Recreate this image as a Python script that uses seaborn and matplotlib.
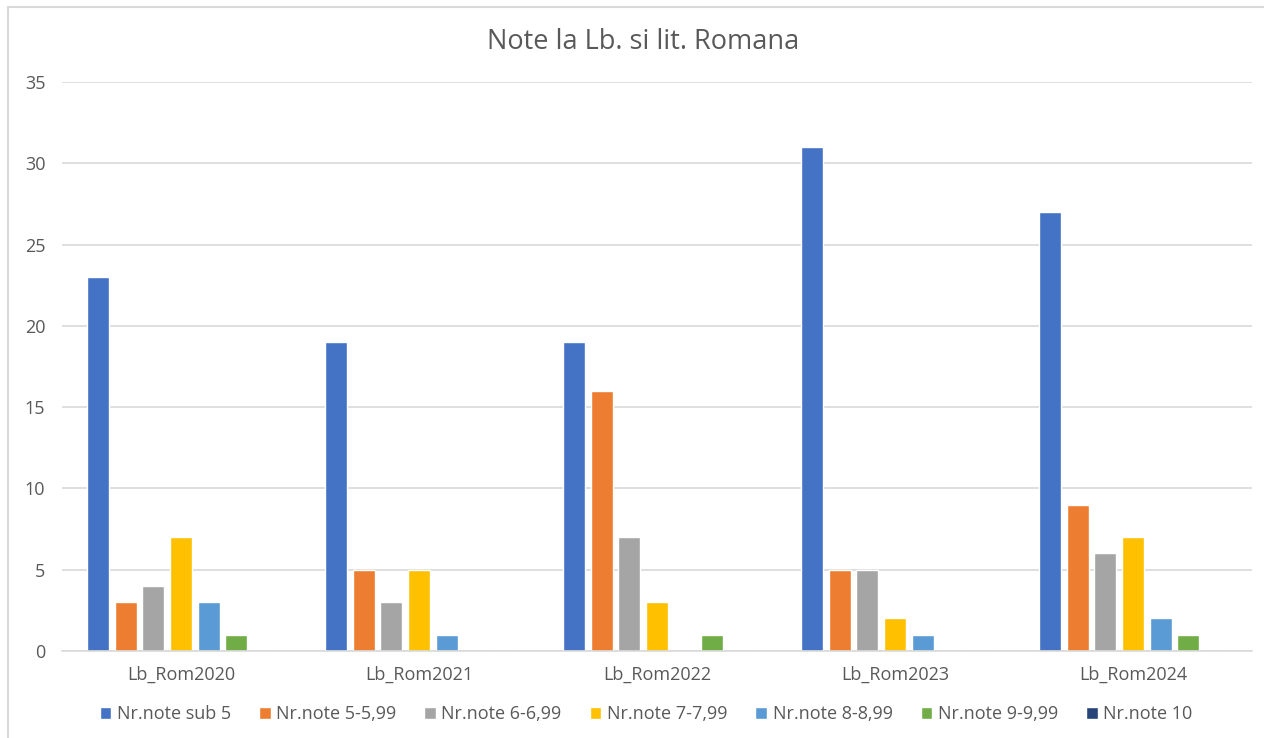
import matplotlib
matplotlib.use("Agg")
import matplotlib.pyplot as plt
from matplotlib.patches import Rectangle
import seaborn as sns
import pandas as pd

# Data
categories = ["Lb_Rom2020", "Lb_Rom2021", "Lb_Rom2022", "Lb_Rom2023", "Lb_Rom2024"]
series = ["Nr.note sub 5", "Nr.note 5-5,99", "Nr.note 6-6,99", "Nr.note 7-7,99",
          "Nr.note 8-8,99", "Nr.note 9-9,99", "Nr.note 10"]
sub5 = [23, 19, 19, 31, 27]
n5 = [3, 5, 16, 5, 9]
n6 = [4, 3, 7, 5, 6]
n7 = [7, 5, 3, 2, 7]
n8 = [3, 1, 0, 1, 2]
n9 = [1, 0, 1, 0, 1]
n10 = [0, 0, 0, 0, 0]
palette = ["#4472C4", "#ED7D31", "#A5A5A5", "#FFC000", "#5B9BD5", "#70AD47", "#264478"]

values = [sub5, n5, n6, n7, n8, n9, n10]
rows = []
for s, vals in zip(series, values):
    for c, v in zip(categories, vals):
        rows.append({"cat": c, "series": s, "val": v})
df = pd.DataFrame(rows)

sns.set_theme(style="white")
plt.rcParams["font.family"] = ["Open Sans", "DejaVu Sans"]
text_col = "#595959"

W, H = 1264, 738
fig = plt.figure(figsize=(W / 100, H / 100), dpi=100)
ax = fig.add_axes([62 / W, 1 - 651 / H, (1252 - 62) / W, (651 - 82) / H])

sns.barplot(data=df, x="cat", y="val", hue="series", order=categories,
            hue_order=series, palette=palette, width=0.81, gap=0.2,
            saturation=1, ax=ax, legend=True)

ax.set_ylim(0, 35)
ax.set_xlim(-0.5, 4.5)
ax.set_yticks(range(0, 36, 5))
ax.grid(axis="y", color="#D9D9D9", linewidth=1.2)
ax.set_axisbelow(True)
for side in ["top", "right", "left"]:
    ax.spines[side].set_visible(False)
ax.spines["bottom"].set_color("#D9D9D9")
ax.spines["bottom"].set_linewidth(1.2)
ax.tick_params(axis="both", length=0, labelsize=13, colors=text_col)
ax.tick_params(axis="y", pad=12)
ax.tick_params(axis="x", pad=11)
ax.set_xlabel("")
ax.set_ylabel("")

fig.text(643 / W, 1 - 42 / H, "Note la Lb. si lit. Romana", ha="center", va="center",
         fontsize=19.5, color=text_col)

handles, labels = ax.get_legend_handles_labels()
ax.legend_.remove()
fig.legend(handles, labels, loc="center", bbox_to_anchor=(646 / W, 1 - 714 / H),
           ncol=7, frameon=False, fontsize=13, handlelength=0.65, handleheight=0.65,
           handletextpad=0.3, columnspacing=1.55, labelcolor=text_col)

# chart frame
fig.patches.append(Rectangle((8 / W, -0.05), 1.1, 1 - 7 / H + 0.05, transform=fig.transFigure,
                             fill=False, edgecolor="#D9D9D9", linewidth=1.5, zorder=0))

fig.savefig("out.png", dpi=100, facecolor="white")
